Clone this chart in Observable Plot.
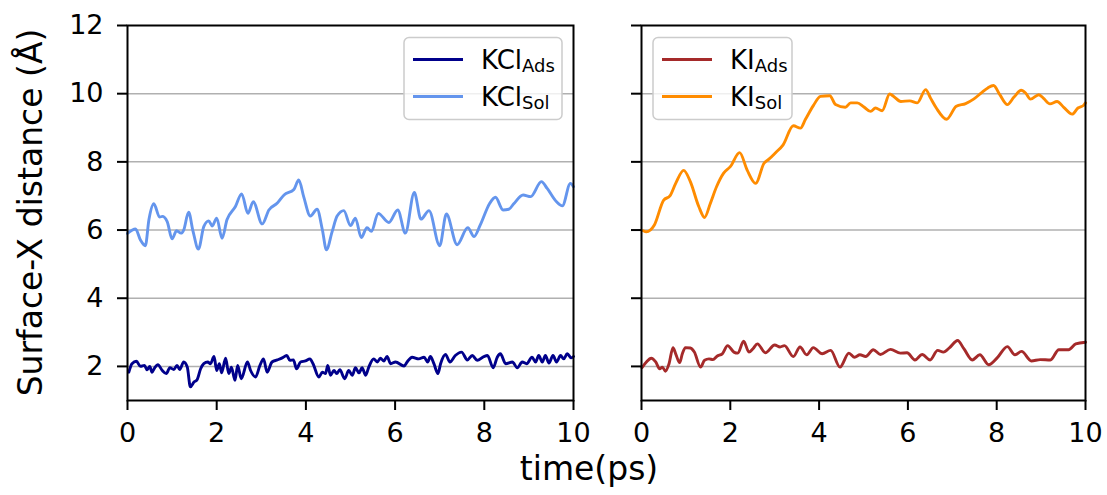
<!DOCTYPE html>
<html><head><meta charset="utf-8">
<script src="https://cdn.jsdelivr.net/npm/d3@7"></script>
<script src="https://cdn.jsdelivr.net/npm/@observablehq/plot@0.6"></script>
<style>
body{margin:0;background:#fff;}
#wrap{position:relative;width:1107px;height:495px;font-family:"DejaVu Sans",sans-serif;}
#wrap svg{position:absolute;top:0;}
#wrap svg g[aria-label="y-axis tick label"], #wrap svg g[aria-label="x-axis tick label"]{font-size:27px;}
#xlabel{position:absolute;left:589px;top:452px;transform:translateX(-50%);font-size:33px;line-height:1;white-space:nowrap;color:#000;}
</style></head><body>
<div id="wrap"><div id="xlabel">time(ps)</div></div>
<script>
// ---- data ----
const xTicks = [0, 2, 4, 6, 8, 10];
const yTicks = [2, 4, 6, 8, 10, 12];
const yGrid = [2, 4, 6, 8, 10];

const kclSolT = [0,0.18,0.29,0.40,0.48,0.59,0.72,0.78,0.89,1.00,1.10,1.20,1.26,1.37,1.47,1.59,1.71,1.82,1.90,2.00,2.12,2.23,2.42,2.56,2.70,2.82,3.02,3.17,3.36,3.51,3.73,3.84,3.95,4.10,4.25,4.37,4.46,4.59,4.70,4.85,5.00,5.11,5.24,5.37,5.47,5.62,5.86,6.06,6.23,6.43,6.58,6.76,7.00,7.15,7.39,7.63,7.77,7.91,8.12,8.25,8.42,8.55,8.66,8.87,9.04,9.28,9.41,9.62,9.75,9.93,10];
const kclSolV = [5.9,6.03,5.71,5.54,6.30,6.77,6.38,6.40,6.25,5.74,5.98,5.91,6.0,6.52,5.96,5.44,6.10,6.27,6.12,6.35,5.76,6.30,6.69,7.06,6.49,6.83,6.18,6.59,6.79,7.03,7.19,7.47,6.98,6.41,6.61,6.0,5.42,5.96,6.41,6.57,6.13,6.35,5.78,6.07,5.96,6.49,6.22,6.59,5.91,7.10,6.32,6.57,5.54,6.47,5.57,6.07,5.81,6.15,6.78,6.96,6.59,6.61,6.77,7.03,6.98,7.42,7.22,6.83,6.71,7.37,7.27];

const kclAdsT = [0.03,0.10,0.20,0.29,0.38,0.44,0.50,0.55,0.61,0.68,0.78,0.87,0.95,1.04,1.11,1.17,1.26,1.34,1.41,1.49,1.56,1.64,1.71,1.80,1.86,1.94,2.00,2.06,2.11,2.20,2.27,2.33,2.41,2.47,2.55,2.69,2.76,2.87,2.97,3.05,3.13,3.24,3.36,3.47,3.57,3.64,3.72,3.79,3.88,3.99,4.09,4.16,4.29,4.37,4.44,4.49,4.55,4.63,4.69,4.76,4.87,4.96,5.04,5.11,5.19,5.26,5.34,5.41,5.52,5.60,5.67,5.75,5.82,5.90,6.01,6.20,6.27,6.38,6.53,6.65,6.73,6.79,6.87,6.96,7.02,7.13,7.23,7.35,7.49,7.62,7.73,7.84,7.99,8.07,8.20,8.29,8.36,8.48,8.63,8.74,8.85,8.95,9.07,9.15,9.22,9.30,9.37,9.45,9.54,9.62,9.71,9.78,9.86,9.95,10];
const kclAdsV = [1.83,2.08,2.15,2.0,2.03,1.90,2.0,1.83,1.96,2.05,1.88,1.79,1.96,1.91,2.03,1.91,2.13,1.98,1.40,1.54,1.61,1.93,2.08,2.13,2.08,2.29,1.88,2.08,1.81,2.24,1.79,1.98,1.59,2.03,1.64,2.13,1.88,1.69,2.03,2.22,1.83,2.13,2.19,2.25,2.32,2.18,2.19,1.93,2.13,2.16,2.22,2.08,1.69,1.83,1.79,2.03,1.74,1.88,1.79,1.90,1.64,1.88,1.74,1.96,1.81,1.96,1.74,1.98,2.22,2.13,2.24,2.16,2.29,2.08,2.13,2.01,2.13,2.27,2.22,2.27,2.13,2.29,2.08,1.79,2.08,2.35,2.13,2.32,2.42,2.19,2.32,2.18,2.29,2.32,1.96,2.27,2.37,2.08,2.13,1.96,2.13,2.08,2.27,2.13,2.32,2.13,2.32,2.10,2.32,2.13,2.32,2.22,2.37,2.25,2.29];

const kiSolT = [0.04,0.11,0.29,0.50,0.64,0.77,0.95,1.10,1.29,1.42,1.55,1.69,1.85,2.00,2.21,2.38,2.57,2.76,2.87,3.02,3.19,3.42,3.58,3.69,3.87,4.03,4.24,4.37,4.59,4.71,4.86,5.01,5.16,5.27,5.42,5.59,5.68,5.84,6.04,6.21,6.40,6.51,6.64,6.87,7.09,7.30,7.48,7.67,7.80,7.93,8.07,8.24,8.39,8.55,8.65,8.76,8.95,9.05,9.20,9.36,9.51,9.70,9.83,9.96,10];
const kiSolV = [5.98,5.95,6.15,6.88,7.0,7.37,7.75,7.42,6.69,6.37,6.78,7.27,7.67,7.86,8.27,7.76,7.37,7.96,8.08,8.27,8.5,9.06,8.99,9.24,9.65,9.92,9.94,9.68,9.6,9.73,9.73,9.61,9.48,9.58,9.5,9.99,9.92,9.77,9.79,9.73,10.12,9.87,9.58,9.25,9.63,9.71,9.84,10.04,10.17,10.24,9.97,9.68,9.9,10.1,10.02,9.84,9.97,9.87,9.70,9.77,9.60,9.40,9.58,9.66,9.73];

const kiAdsT = [0.01,0.11,0.22,0.32,0.41,0.47,0.54,0.62,0.71,0.77,0.86,0.92,0.99,1.10,1.19,1.33,1.42,1.52,1.61,1.70,1.82,1.94,2.08,2.17,2.30,2.42,2.51,2.61,2.79,3.00,3.12,3.22,3.42,3.57,3.72,3.87,4.07,4.26,4.47,4.67,4.80,4.92,5.05,5.22,5.38,5.61,5.83,5.98,6.16,6.32,6.50,6.67,6.80,6.94,7.12,7.26,7.45,7.62,7.82,8.01,8.24,8.41,8.56,8.78,8.98,9.21,9.40,9.62,9.78,10];
const kiAdsV = [1.96,2.13,2.24,2.13,1.93,1.98,1.86,2.08,2.55,2.37,2.11,2.37,2.55,2.54,2.42,1.98,2.18,2.22,2.20,2.30,2.37,2.61,2.42,2.39,2.74,2.42,2.52,2.66,2.40,2.63,2.57,2.61,2.29,2.57,2.34,2.55,2.37,2.47,1.98,2.39,2.27,2.34,2.29,2.49,2.35,2.50,2.39,2.40,2.19,2.35,2.19,2.47,2.42,2.55,2.76,2.52,2.19,2.34,2.05,2.25,2.58,2.34,2.44,2.16,2.20,2.19,2.49,2.49,2.66,2.71];

const kclNames = ["KCl", "KCl"], kclSubs = ["Ads", "Sol"];
const kiNames = ["KI", "KI"], kiSubs = ["Ads", "Sol"];
const kclColors = ["#00008B", "#6495ED"];
const kiColors = ["#A52A2A", "#FF8C00"];

const rows = (t, v) => t.map((x, i) => ({t: x, v: v[i]}));

function panel(series, colors, showLabels, width, marginRight) {
  return Plot.plot({
    width, height: 495,
    marginLeft: 127, marginRight, marginTop: 25, marginBottom: 95,
    x: {domain: [0, 10]},
    y: {domain: [1, 12]},
    style: {fontFamily: "DejaVu Sans", fontSize: "25px", color: "#000", background: "transparent", overflow: "visible"},
    marks: [
      Plot.gridY(yGrid, {stroke: "#b0b0b0", strokeOpacity: 1, strokeWidth: 1.5}),
      ...series.map((s, i) => Plot.line(s, {x: "t", y: "v", stroke: colors[i], strokeWidth: 2.9, curve: "monotone-x"})),
      Plot.frame({stroke: "#000", strokeWidth: 2}),
      Plot.axisX(xTicks, {tickSize: 10, tickPadding: 12, strokeWidth: 2, label: null, fontSize: 27}),
      Plot.axisY(yTicks, {tickSize: 10, tickPadding: 14, strokeWidth: 2, label: null, fontSize: 27,
        tickFormat: showLabels ? (d => String(d)) : (() => "")})
    ]
  });
}

function legend(svg, x0, y0, w, names, subs, colors) {
  const g = d3.select(svg).append("g").attr("text-anchor", "start");
  g.append("rect").attr("x", x0).attr("y", y0).attr("width", w).attr("height", 82)
    .attr("rx", 5).attr("fill", "#fff").attr("fill-opacity", 0.8)
    .attr("stroke", "#cccccc").attr("stroke-width", 1.5);
  names.forEach((n, i) => {
    const cy = y0 + 22 + i * 37;
    g.append("line").attr("x1", x0 + 9).attr("x2", x0 + 59).attr("y1", cy).attr("y2", cy)
      .attr("stroke", colors[i]).attr("stroke-width", 2.8);
    const t = g.append("text").attr("x", x0 + 77).attr("y", cy + 9.5)
      .attr("text-anchor", "start")
      .attr("font-family", "DejaVu Sans").attr("font-size", 26).attr("fill", "#000");
    t.append("tspan").text(n);
    t.append("tspan").attr("font-size", 18).attr("dy", 3).text(subs[i]);
  });
}

const wrap = document.getElementById("wrap");

const left = panel([rows(kclAdsT, kclAdsV), rows(kclSolT, kclSolV)], kclColors, true, 600, 27);
left.style.left = "0px";
wrap.appendChild(left);
legend(left, 404, 37.5, 158, kclNames, kclSubs, kclColors);
d3.select(left).append("text")
  .attr("transform", "translate(41.5,212.5) rotate(-90)")
  .attr("text-anchor", "middle").attr("font-family", "DejaVu Sans").attr("font-size", 33).attr("fill", "#000")
  .text("Surface-X distance (Å)");

const right = panel([rows(kiAdsT, kiAdsV), rows(kiSolT, kiSolV)], kiColors, false, 593, 22);
right.style.left = "514px";
wrap.appendChild(right);
legend(right, 139, 37.5, 139, kiNames, kiSubs, kiColors);
</script>
</body></html>
